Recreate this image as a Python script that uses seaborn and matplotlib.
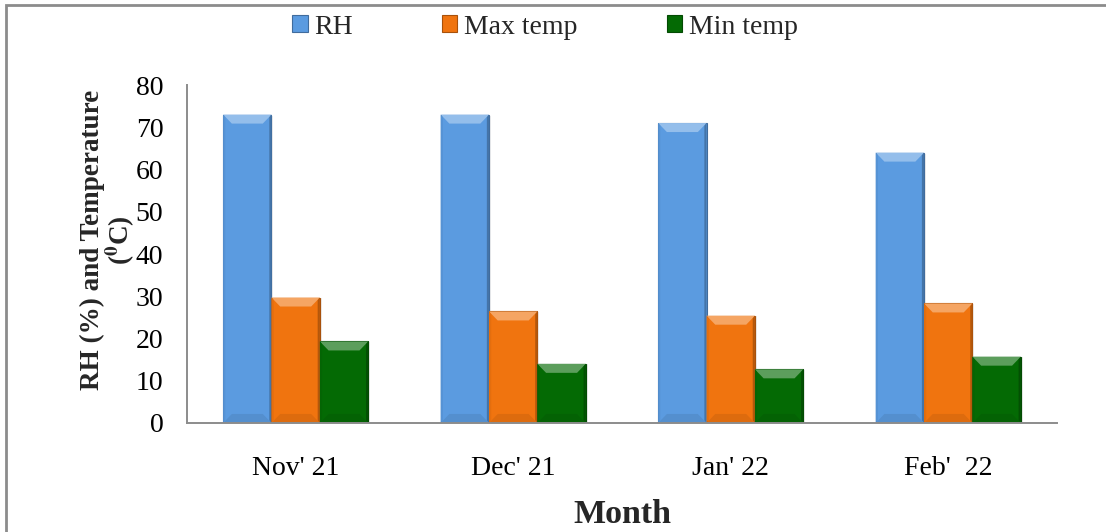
import numpy as np
import pandas as pd
import matplotlib
matplotlib.use("Agg")
import matplotlib.pyplot as plt
import matplotlib.colors as mcolors
from matplotlib.patches import Polygon, Rectangle
import seaborn as sns

# Monthly weather data
months = ["Nov' 21", "Dec' 21", "Jan' 22", "Feb'  22"]
rh = [73, 73, 71, 64]
max_temp = [29.7, 26.4, 25.4, 28.3]
min_temp = [19.3, 14.0, 12.7, 15.7]
series_names = ["RH", "Max temp", "Min temp"]
y_ticks = [0, 10, 20, 30, 40, 50, 60, 70, 80]

df = pd.DataFrame({"Month": months, "RH": rh, "Max temp": max_temp, "Min temp": min_temp})
long = df.melt(id_vars="Month", value_vars=series_names, var_name="Series", value_name="Value")

palette = {"RH": "#5B9BE0", "Max temp": "#F0740F", "Min temp": "#046A04"}

sns.set_theme(style="white")
plt.rcParams["font.family"] = ["Liberation Serif", "DejaVu Serif"]
plt.rcParams["mathtext.fontset"] = "stix"

fig = plt.figure(figsize=(11.06, 5.32), dpi=100)
ax = fig.add_axes([0.169, 0.2049, 0.7867, 0.6353])

sns.barplot(data=long, x="Month", y="Value", hue="Series", hue_order=series_names,
            palette=palette, width=0.667, gap=0, saturation=1, ax=ax,
            edgecolor="none", linewidth=0, legend=False)

ax.set_ylim(0, 80)
ax.set_xlim(-0.5, len(months) - 0.5)
ax.set_yticks(y_ticks)
ax.set_yticklabels([str(t) for t in y_ticks], fontsize=20)
ax.set_xticks(range(len(months)))
ax.set_xticklabels(months, fontsize=20)
ax.set_xticks(np.arange(-0.5, len(months)), minor=True)
ax.tick_params(axis="x", which="major", length=0, pad=24)
ax.tick_params(axis="x", which="minor", length=7, width=1.2, color="#8c8c8c", direction="out")
ax.tick_params(axis="y", length=6, width=1.2, color="#8c8c8c", direction="out", pad=11)
ax.tick_params(axis="both", colors="#8c8c8c", labelcolor="black")

for side in ["top", "right"]:
    ax.spines[side].set_visible(False)
for side in ["left", "bottom"]:
    ax.spines[side].set_color("#8c8c8c")
    ax.spines[side].set_linewidth(1.4)

ax.set_xlabel("Month", fontsize=24.5, fontweight="bold", labelpad=13)
ax.set_ylabel("RH (%) and Temperature\n($\\mathbf{^{0}}$C)", fontsize=19.5,
              fontweight="bold", linespacing=0.95)
ax.yaxis.set_label_coords(-0.057, 0.541)

# Bevelled look on each bar, derived from the bar geometry
fig.canvas.draw()
inv = ax.transData.inverted()
p0 = inv.transform((0, 0))
p1 = inv.transform((9, 9))
dy = p1[1] - p0[1]

def shade(c, f):
    r, g, b = mcolors.to_rgb(c)
    if f > 0:
        return (r + (1 - r) * f, g + (1 - g) * f, b + (1 - b) * f)
    return (r * (1 + f), g * (1 + f), b * (1 + f))

bars = [p for p in ax.patches if isinstance(p, Rectangle) and p.get_height() > 0]
for bar in bars:
    x, y = bar.get_x(), bar.get_y()
    w, h = bar.get_width(), bar.get_height()
    base = bar.get_facecolor()
    dx = w * 0.18
    # soft drop shadow on the right
    ax.add_patch(Rectangle((x + w, y), w * 0.04, h * 0.995, facecolor="#000000",
                           alpha=0.07, edgecolor="none", zorder=bar.get_zorder() - 0.1))
    top = Polygon([(x, y + h), (x + w, y + h), (x + w - dx, y + h - dy), (x + dx, y + h - dy)],
                  closed=True, facecolor=shade(base, 0.35), edgecolor="none",
                  zorder=bar.get_zorder() + 0.1)
    bottom = Polygon([(x, y), (x + w, y), (x + w - dx, y + dy), (x + dx, y + dy)],
                     closed=True, facecolor=shade(base, -0.08), edgecolor="none",
                     zorder=bar.get_zorder() + 0.1)
    left = Polygon([(x, y), (x + dx * 0.25, y + dy * 0.3), (x + dx * 0.25, y + h - dy * 0.3), (x, y + h)],
                   closed=True, facecolor=shade(base, -0.05), edgecolor="none",
                   zorder=bar.get_zorder() + 0.1)
    right = Polygon([(x + w, y), (x + w - dx * 0.25, y + dy * 0.3), (x + w - dx * 0.25, y + h - dy * 0.3), (x + w, y + h)],
                    closed=True, facecolor=shade(base, -0.25), edgecolor="none",
                    zorder=bar.get_zorder() + 0.1)
    for poly in (top, bottom, left, right):
        ax.add_patch(poly)
    bar.set_edgecolor(shade(base, -0.3))
    bar.set_linewidth(0.8)

# Legend across the top
handles = [Rectangle((0, 0), 1, 1, facecolor=palette[s], edgecolor=shade(palette[s], -0.3),
                     linewidth=0.8) for s in series_names]
fig.legend(handles, series_names, loc="center", bbox_to_anchor=(0.493, 0.949), ncol=3,
           frameon=False, fontsize=20, handlelength=0.55, handleheight=0.55,
           handletextpad=0.25, columnspacing=3.2, borderpad=0.2)

# Chart-area border
fig.patches.append(Rectangle((6 / 1106, -0.1), 1.2, 0.1 + 1 - 5 / 532, transform=fig.transFigure,
                             facecolor="none", edgecolor="#8c8c8c", linewidth=2.0))

fig.savefig("out.png", dpi=100)
